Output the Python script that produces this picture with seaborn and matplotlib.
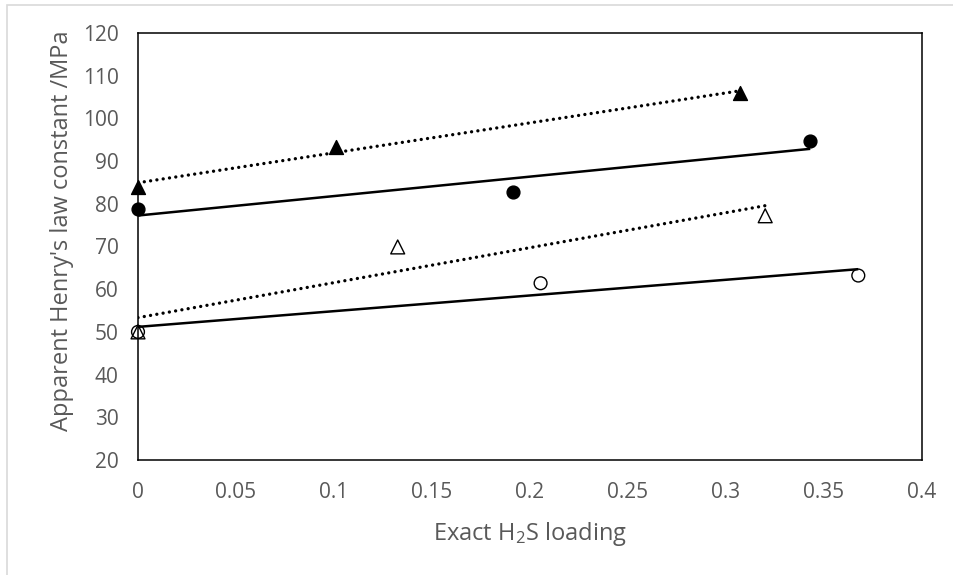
import numpy as np
import pandas as pd
import matplotlib
matplotlib.use("Agg")
import matplotlib.pyplot as plt
import seaborn as sns
from matplotlib.patches import Rectangle

# ---- data ----
ft_x = [0.0, 0.101, 0.307]      # filled triangles
ft_y = [84.0, 93.4, 106.0]
fc_x = [0.0, 0.1915, 0.343]     # filled circles
fc_y = [78.7, 82.7, 94.7]
ot_x = [0.0, 0.1325, 0.320]     # open triangles
ot_y = [50.0, 69.9, 77.2]
oc_x = [0.0, 0.2054, 0.3675]    # open circles
oc_y = [50.0, 61.4, 63.2]

x_ticks = [0, 0.05, 0.1, 0.15, 0.2, 0.25, 0.3, 0.35, 0.4]
x_tick_labels = ["0", "0.05", "0.1", "0.15", "0.2", "0.25", "0.3", "0.35", "0.4"]
y_ticks = [20, 30, 40, 50, 60, 70, 80, 90, 100, 110, 120]
y_tick_labels = [str(v) for v in y_ticks]

x_label = "Exact H$_2$S loading"
y_label = "Apparent Henry's law constant /MPa"

# ---- style ----
sns.set_theme(style="white")
plt.rcParams["font.family"] = ["Open Sans", "DejaVu Sans"]
plt.rcParams["mathtext.fontset"] = "custom"
plt.rcParams["mathtext.rm"] = "Open Sans"
plt.rcParams["mathtext.it"] = "Open Sans"
txt = "#595959"

fig = plt.figure(figsize=(9.54, 5.75), dpi=100)
ax = fig.add_axes([138 / 954, 1 - 460 / 575, (922 - 138) / 954, (460 - 33) / 575])

dot = (0, (0.01, 1.9))
series = [
    (ft_x, ft_y, "^", "black", dot),
    (fc_x, fc_y, "o", "black", "-"),
    (ot_x, ot_y, "^", "none", dot),
    (oc_x, oc_y, "o", "none", "-"),
]

for xs, ys, mk, fcol, ls in series:
    df = pd.DataFrame({"x": xs, "y": ys})
    lw = 2.4 if ls == dot else 1.8
    sns.regplot(data=df, x="x", y="y", ax=ax, scatter=False, ci=None,
                truncate=True, color="black",
                line_kws=dict(lw=lw, ls=ls, dash_capstyle="round",
                              solid_capstyle="butt", zorder=3))
for xs, ys, mk, fcol, ls in series:
    df = pd.DataFrame({"x": xs, "y": ys})
    size = 100 if mk == "^" else 85
    sns.scatterplot(data=df, x="x", y="y", ax=ax, marker=mk, s=size,
                    facecolor=fcol, edgecolor="black", linewidth=1.0,
                    zorder=4, clip_on=False, legend=False)

ax.set_xlim(0, 0.4)
ax.set_ylim(20, 120)
ax.set_xticks(x_ticks)
ax.set_xticklabels(x_tick_labels)
ax.set_yticks(y_ticks)
ax.set_yticklabels(y_tick_labels)

ax.tick_params(axis="both", direction="in", length=6, width=1.0,
               color="black", labelsize=15, labelcolor=txt)
ax.tick_params(axis="x", pad=16)
ax.tick_params(axis="y", pad=14)

for sp in ax.spines.values():
    sp.set_visible(True)
    sp.set_color("black")
    sp.set_linewidth(1.1)

ax.set_xlabel(x_label, fontsize=17, color=txt)
ax.set_ylabel(y_label, fontsize=17, color=txt)
ax.xaxis.set_label_coords(0.5, (460 - 520) / 427)
ax.yaxis.set_label_coords((74 - 138) / 784, (460 - 231) / 427)

# light outer frame (top and left edges visible in the reference)
fig.patches.append(Rectangle((7 / 954, -0.1), 2.0, (1 - 5 / 575) + 0.1,
                             transform=fig.transFigure, fill=False,
                             edgecolor="#d9d9d9", lw=1.2))

fig.savefig("out.png", dpi=100)
